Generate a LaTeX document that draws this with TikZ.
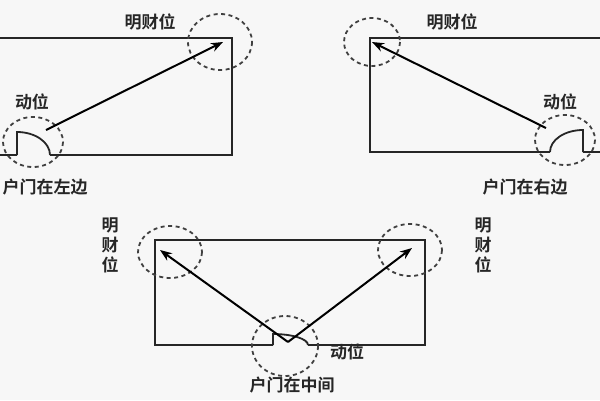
\documentclass[tikz,border=0pt]{standalone}
\usepackage{fontspec}
\newfontfamily\cjk{Noto Sans CJK SC Bold}
\usetikzlibrary{arrows.meta}
\begin{document}
\begin{tikzpicture}[x=1pt,y=-1pt,
  wall/.style={line width=1.2pt,black!85},
  dcirc/.style={line width=1.8pt,dash pattern=on 4pt off 3.5pt,black!75},
  arr/.style={line width=2pt,-{Stealth[length=12pt,width=9pt]}},
  lbl/.style={font=\cjk\fontsize{17}{20}\selectfont,inner sep=0pt,black!85}]
\fill[white!94!gray] (0,0) rectangle (600,400);
\useasboundingbox (0,0) rectangle (600,400);
% left
\draw[wall] (17,155) -- (-2,155) -- (-2,38) -- (232,38) -- (232,155) -- (50,155);
\draw[wall,line width=1.8pt] (17,155) -- (17,132) arc[start angle=-90,end angle=0,x radius=33,y radius=23];
\draw[dcirc] (220,42) ellipse[x radius=32,y radius=28];
\draw[dcirc] (33,142) ellipse[x radius=30,y radius=25];
\coordinate (la) at (46,130); \coordinate (lb) at (223,42);
\draw[arr] (la) -- (lb);
\node[lbl] (l1) at (150,22) {明财位};
\node[lbl] (l2) at (32,102) {动位};
\node[lbl] (l3) at (45,187) {户门在左边};
% right
\draw[wall] (583,152) -- (602,152) -- (602,38) -- (370,38) -- (370,152) -- (550,152);
\draw[wall,line width=1.8pt] (583,152) -- (583,130) arc[start angle=-90,end angle=-180,x radius=33,y radius=22];
\draw[dcirc] (372,42) ellipse[x radius=28,y radius=24];
\draw[dcirc] (565,140) ellipse[x radius=30,y radius=25];
\coordinate (ra) at (546,128); \coordinate (rb) at (372,42);
\draw[arr] (ra) -- (rb);
\node[lbl] (r1) at (452,22) {明财位};
\node[lbl] (r2) at (560,102) {动位};
\node[lbl] (r3) at (525,187) {户门在右边};
% bottom
\draw[wall] (273,345) -- (155,345) -- (155,240) -- (425,240) -- (425,345) -- (308,345);
\draw[wall,line width=1.8pt] (273,345) -- (273,334) arc[start angle=-90,end angle=0,x radius=35,y radius=11];
\draw[dcirc] (170,252) ellipse[x radius=32,y radius=26];
\draw[dcirc] (410,250) ellipse[x radius=32,y radius=26];
\draw[dcirc] (285,346) ellipse[x radius=33,y radius=30];
\coordinate (ba) at (288,342);
\coordinate (bl) at (160,250); \coordinate (br) at (412,248);
\draw[arr] (ba) -- (bl);
\draw[arr] (ba) -- (br);
\node[lbl,align=center] (b1) at (110,245) {明\\财\\位};
\node[lbl,align=center] (b2) at (483,245) {明\\财\\位};
\node[lbl] (b3) at (347,352) {动位};
\node[lbl] (b4) at (292,385) {户门在中间};
\end{tikzpicture}
\end{document}
